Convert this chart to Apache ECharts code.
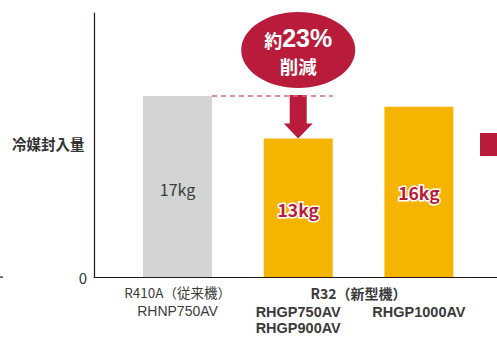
<!DOCTYPE html>
<html><head><meta charset="utf-8">
<script src="https://cdn.jsdelivr.net/npm/echarts@6/dist/echarts.min.js"></script>
<style>html,body{margin:0;padding:0;background:#fff;}#c{width:497px;height:338px;}</style>
</head><body><div id="c"></div>
<script>
// ---- data ----
const positions = [0, 1, 2];
const values = [17, 13, 16];
const valueLabels = ['17kg', '13kg', '16kg'];
const yAxisTitle = '冷媒封入量';
const yTickLabels = ['0'];
const groupLabels = ['R410A（従来機）', 'R32（新型機）'];
const modelLabels = ['RHNP750AV', 'RHGP750AV', 'RHGP900AV', 'RHGP1000AV'];
const reduction = ['約', '23%', '削減'];

// ---- styles ----
const FONT = '"Noto Sans CJK JP", "Noto Sans", sans-serif';
const LAT = '"Liberation Sans", Arial, sans-serif';
const RED = '#b81c3a';
const barColors = ['#d3d5d4', '#f5b400', '#f5b400'];
const labelOffsets = [93, 71, 86];
const labelStyles = [
  {color: '#3c3c3c', fontWeight: 'normal', fontSize: 16},
  {color: RED, fontWeight: 'bold', fontSize: 17.5, textBorderColor: '#fff', textBorderWidth: 3},
  {color: RED, fontWeight: 'bold', fontSize: 17.5, textBorderColor: '#fff', textBorderWidth: 3}
];

const chart = echarts.init(document.getElementById('c'), null, {renderer: 'svg'});
const option = {
  animation: false,
  grid: {left: 94, right: 0, top: 13, bottom: 61},
  xAxis: {
    type: 'value', min: -0.692, max: 2.647,
    axisLine: {show: true, onZero: false, lineStyle: {color: '#231815', width: 1.2}},
    axisTick: {show: false}, axisLabel: {show: false}, splitLine: {show: false}
  },
  yAxis: {
    type: 'value', min: 0, max: 24.8, interval: 24.8,
    axisLine: {show: true, onZero: false, lineStyle: {color: '#231815', width: 1.2}},
    axisTick: {show: false}, splitLine: {show: false},
    axisLabel: {
      margin: 7, color: '#333', fontSize: 15, fontFamily: FONT,
      formatter: v => (v === 0 ? yTickLabels[0] : '')
    }
  },
  series: [{
    type: 'bar',
    barWidth: 69,
    data: positions.map((x, i) => ({
      value: [x, values[i]],
      itemStyle: {color: barColors[i]},
      label: Object.assign({
        show: true, formatter: valueLabels[i],
        position: ['50%', labelOffsets[i]], align: 'center', verticalAlign: 'middle',
        fontFamily: FONT
      }, labelStyles[i])
    })),
    markLine: {
      silent: true, symbol: 'none', label: {show: false},
      lineStyle: {type: [5, 4], color: '#d2677a', width: 1.5},
      data: [[{coord: [positions[0] + 0.286, values[0]]}, {coord: [positions[1] + 0.286, values[0]]}]]
    }
  }]
};
chart.setOption(option);

const px = (x, y) => chart.convertToPixel({gridIndex: 0}, [x, y]);
const p0 = px(positions[0], 0), p1 = px(positions[1], 0), p2 = px(positions[2], 0);
const top17 = px(positions[1], values[0])[1];
const top13 = px(positions[1], values[1])[1];
const cx = p1[0];
const baseY = p0[1];

function txt(x, y, s, font, fill, align) {
  return {type: 'text', x: x, y: y, style: {text: s, font: font, fill: fill, align: align || 'center', verticalAlign: 'middle'}};
}

const graphics = [
  {type: 'text', left: 12, top: 136, style: {text: yAxisTitle, font: 'bold 14.5px ' + FONT, fill: '#333'}},
  {type: 'rect', shape: {x: 0, y: baseY - 0.5, width: 3, height: 1.2}, style: {fill: '#231815'}},
  {type: 'rect', shape: {x: 480, y: 133, width: 20, height: 23}, style: {fill: RED}},
  {type: 'ellipse', shape: {cx: cx, cy: 50, rx: 57, ry: 38}, style: {fill: RED}},
  txt(cx - 16, 40, reduction[0], 'bold 18px ' + FONT, '#fff', 'right'),
  txt(cx - 16, 38, reduction[1], 'bold 25px ' + LAT, '#fff', 'left'),
  txt(cx, 66, reduction[2], 'bold 18.5px ' + FONT, '#fff'),
  {type: 'polygon', shape: {points: [
    [cx - 8.5, top17 - 1], [cx + 8.5, top17 - 1], [cx + 8.5, top13 - 15], [cx + 14.5, top13 - 15],
    [cx, top13], [cx - 14.5, top13 - 15], [cx - 8.5, top13 - 15]
  ]}, style: {fill: RED}},
  txt(p0[0], baseY + 15, groupLabels[0], '13.5px ' + FONT, '#3c3c3c'),
  txt(p0[0], baseY + 33.5, modelLabels[0], '14px ' + LAT, '#3c3c3c'),
  txt((p1[0] + p2[0]) / 2, baseY + 16, groupLabels[1], 'bold 14px ' + FONT, '#3a3a3a'),
  txt(p1[0], baseY + 34.5, modelLabels[1], 'bold 14.5px ' + LAT, '#3a3a3a'),
  txt(p1[0], baseY + 50.5, modelLabels[2], 'bold 14.5px ' + LAT, '#3a3a3a'),
  txt(p2[0], baseY + 34.5, modelLabels[3], 'bold 14.5px ' + LAT, '#3a3a3a')
];
chart.setOption({graphic: graphics});
</script>
</body></html>
